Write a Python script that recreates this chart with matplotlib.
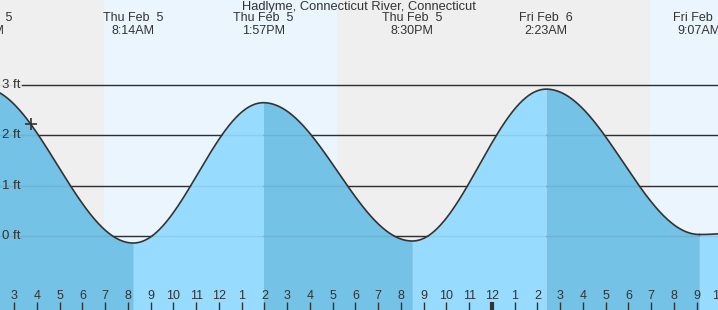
import numpy as np
import matplotlib
matplotlib.use("Agg")
import matplotlib.pyplot as plt

plt.rcParams['font.family'] = ['Liberation Sans', 'DejaVu Sans']

# ---- data (hours since Thu Feb 5 00:00) ----
event_times = [1.583, 8.233, 13.95, 20.5, 26.383, 33.117]
event_heights = [2.95, -0.14, 2.65, -0.10, 2.92, 0.03]
event_day_labels = ["Thu Feb  5", "Thu Feb  5", "Thu Feb  5", "Thu Feb  5", "Fri Feb  6", "Fri Feb  6"]
event_time_labels = ["1:35AM", "8:14AM", "1:57PM", "8:30PM", "2:23AM", "9:07AM"]
sun_events = [6.95, 17.19, 30.93]   # sunrise, sunset, sunrise
now_time = 3.73
y_ticks = [0, 1, 2, 3]
y_tick_labels = ["0 ft", "1 ft", "2 ft", "3 ft"]
title = "Hadlyme, Connecticut River, Connecticut"

# ---- layout ----
W, H = 718, 310
x0, x1 = 2.374, 2.374 + W / 22.75
px_per_ft = 50.3
y_top = 236 / px_per_ft
y_bot = (236 - H) / px_per_ft

night_c = '#efefef'
day_c = '#eaf5fe'
rise_c = '#97dcfe'
fall_c = '#74c2e6'
text_c = '#333333'

fig = plt.figure(figsize=(W / 100, H / 100), dpi=100)
ax = fig.add_axes([0, 0, 1, 1])
ax.set_xlim(x0, x1)
ax.set_ylim(y_bot, y_top)
ax.axis('off')

# day / night background
bounds = [x0] + sun_events + [x1]
for i in range(len(bounds) - 1):
    ax.axvspan(bounds[i], bounds[i + 1], color=night_c if i % 2 == 0 else day_c, zorder=0, lw=0)

def tide(t):
    t = np.asarray(t, dtype=float)
    out = np.empty_like(t)
    for i in range(len(event_times) - 1):
        ta, tb = event_times[i], event_times[i + 1]
        ha, hb = event_heights[i], event_heights[i + 1]
        m = (t >= ta) & (t <= tb)
        f = (t[m] - ta) / (tb - ta)
        out[m] = hb + (ha - hb) * (1 + np.cos(np.pi * f)) / 2
    return out

# gridlines (behind fill)
gx0 = x0 + 22 / 22.75
for yv, lab in zip(y_ticks, y_tick_labels):
    ax.plot([gx0, x1], [yv, yv], color=text_c, lw=1, zorder=1)
    ax.text(x0 + 2 / 22.75, yv, lab, ha='left', va='center', fontsize=9.5, color=text_c, zorder=5)

# fills
for i in range(len(event_times) - 1):
    ta, tb = event_times[i], event_times[i + 1]
    tt = np.linspace(ta, tb, 300)
    hh = tide(tt)
    col = rise_c if event_heights[i + 1] > event_heights[i] else fall_c
    ax.fill_between(tt, y_bot - 1, hh, color=col, lw=0, zorder=2)

for yv in y_ticks:
    ax.plot([x0, x1], [yv, yv], color='black', alpha=0.07, lw=1, zorder=3)

tt = np.linspace(event_times[0], event_times[-1], 2000)
ax.plot(tt, tide(tt), color=text_c, lw=1.2, zorder=4)
# continue after last event (rising)
ext = np.linspace(event_times[-1], x1 + 0.5, 50)
ext_h = event_heights[-1] + (ext - event_times[-1]) ** 2 * 0.02
ax.fill_between(ext, y_bot - 1, ext_h, color=rise_c, lw=0, zorder=2)
ax.plot(ext, ext_h, color=text_c, lw=1.2, zorder=4)

# now marker
ax.plot([now_time], tide([now_time]), marker='+', ms=9, mew=1.2, color=text_c, zorder=6)

# title and event labels
ax.text((x0 + x1) / 2, y_top - 7 / px_per_ft, title, ha='center', va='center', fontsize=9.3, color=text_c, zorder=6)
for t, d, tl in zip(event_times, event_day_labels, event_time_labels):
    ax.text(t, y_top - 18 / px_per_ft, d, ha='center', va='center', fontsize=9, color=text_c, zorder=6)
    ax.text(t, y_top - 31 / px_per_ft, tl, ha='center', va='center', fontsize=9, color=text_c, zorder=6)

# hour ticks
for h in range(int(np.ceil(x0)), int(np.floor(x1)) + 2):
    lab = str((h - 1) % 12 + 1)
    ax.text(h, y_bot + 14 / px_per_ft, lab, ha='center', va='center', fontsize=9, color=text_c, zorder=6)
    ax.plot([h, h], [y_bot, y_bot + 8 / px_per_ft], color=text_c, lw=3 if h % 24 == 0 else 1,
            zorder=6, solid_capstyle='butt')

fig.savefig('out.png', dpi=100)
